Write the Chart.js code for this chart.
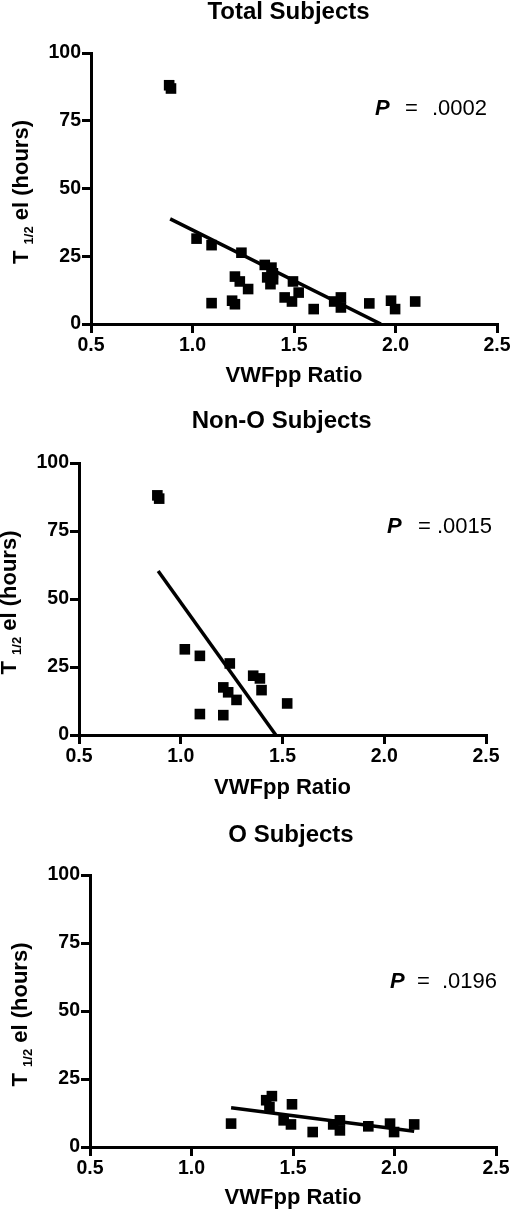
<!DOCTYPE html>
<html>
<head>
<meta charset="utf-8">
<script src="https://cdn.jsdelivr.net/npm/chart.js@4.4.1/dist/chart.umd.min.js"></script>
<style>
  html, body { margin: 0; padding: 0; background: #fff; }
  body { width: 520px; height: 1217px; position: relative; overflow: hidden; }
  canvas { position: absolute; left: 0; }
</style>
</head>
<body>
<canvas id="c0"></canvas>
<canvas id="c1"></canvas>
<canvas id="c2"></canvas>
<script>
// Non-O subjects (VWFpp ratio, T1/2 el in hours)
const nonOX = [0.885, 0.894, 1.020, 1.094, 1.241, 1.209, 1.233, 1.274, 1.094, 1.209, 1.356, 1.389, 1.397, 1.523];
const nonOY = [88.1, 86.9, 31.5, 29.1, 26.3, 17.5, 15.7, 12.9, 7.7, 7.3, 21.8, 20.8, 16.5, 11.6];

// O subjects
const oX = [1.195, 1.368, 1.396, 1.384, 1.495, 1.454, 1.490, 1.597, 1.698, 1.731, 1.731, 1.871, 1.978, 1.998, 2.097];
const oY = [8.6, 17.2, 18.7, 14.7, 15.7, 9.8, 8.3, 5.5, 8.3, 9.8, 6.1, 7.6, 8.6, 5.5, 8.3];

// total = both groups together
const totalX = nonOX.concat(oX);
const totalY = nonOY.concat(oY);

// regression lines (end points)
const totalFitX = [0.89, 1.928];
const totalFitY = [38.8, 0];
const nonOFitX = [0.889, 1.467];
const nonOFitY = [60.3, 0];
const oFitX = [1.195, 2.097];
const oFitY = [14.4, 5.8];

const panelTitles = ["Total Subjects", "Non-O Subjects", "O Subjects"];
const pValues = [".0002", ".0015", ".0196"];
const xTicks = [0.5, 1.0, 1.5, 2.0, 2.5];
const yTicks = [0, 25, 50, 75, 100];
const xTitle = "VWFpp Ratio";

const FONT = "'Liberation Sans', Arial, Helvetica, sans-serif";

// where each panel sits on the page
const panels = [
  { top: 0,   h: 395, left: 91, right: 497, aTop: 53, aBottom: 324, titleX: 288.5, titleY: 18.5,
    pX: 375, eqX: 405, valX: 432, pY: 115, xtPad: 5.8,
    xs: totalX, ys: totalY, fx: totalFitX, fy: totalFitY },
  { top: 400, h: 405, left: 79, right: 486, aTop: 63, aBottom: 335, titleX: 281.7, titleY: 28.3,
    pX: 387, eqX: 418, valX: 437, pY: 133.3, xtPad: 3.8,
    xs: nonOX, ys: nonOY, fx: nonOFitX, fy: nonOFitY },
  { top: 810, h: 407, left: 90, right: 496, aTop: 65, aBottom: 337, titleX: 291, titleY: 31.7,
    pX: 390, eqX: 417, valX: 442, pY: 178.3, xtPad: 5.8,
    xs: oX, ys: oY, fx: oFitX, fy: oFitY }
];

function toPoints(xs, ys) {
  return xs.map((x, i) => ({ x: x, y: ys[i] }));
}

function makeTextPlugin(p, idx) {
  return {
    id: "panelText" + idx,
    afterDraw(chart) {
      const ctx = chart.ctx;
      const area = chart.chartArea;
      ctx.save();
      ctx.fillStyle = "#000";
      ctx.textBaseline = "alphabetic";

      // panel title
      ctx.font = "bold 24px " + FONT;
      ctx.textAlign = "center";
      ctx.fillText(panelTitles[idx], p.titleX, p.titleY);

      // P value
      ctx.textAlign = "left";
      ctx.font = "italic bold 22px " + FONT;
      ctx.fillText("P", p.pX, p.pY);
      ctx.font = "22px " + FONT;
      ctx.fillText("=", p.eqX, p.pY);
      ctx.fillText(pValues[idx], p.valX, p.pY);

      // y axis title with subscript
      const big = "bold 22px " + FONT;
      const small = "bold 13px " + FONT;
      ctx.font = big;
      const w1 = ctx.measureText("T ").width;
      const w3 = ctx.measureText(" el (hours)").width;
      ctx.font = small;
      const w2 = ctx.measureText("1/2").width;
      const total = w1 + w2 + w3;
      const cx = area.left - 63;
      const cy = (area.top + area.bottom) / 2 + 3.5;
      ctx.translate(cx, cy);
      ctx.rotate(-Math.PI / 2);
      let x = -total / 2;
      ctx.font = big;
      ctx.fillText("T ", x, 0);
      x += w1;
      ctx.font = small;
      ctx.fillText("1/2", x, 5);
      x += w2;
      ctx.font = big;
      ctx.fillText(" el (hours)", x, 0);
      ctx.restore();
    }
  };
}

panels.forEach((p, idx) => {
  const canvas = document.getElementById("c" + idx);
  canvas.width = 520;
  canvas.height = p.h;
  canvas.style.top = p.top + "px";
  canvas.style.width = "520px";
  canvas.style.height = p.h + "px";

  new Chart(canvas, {
    type: "scatter",
    data: {
      datasets: [
        {
          label: "fit",
          data: toPoints(p.fx, p.fy),
          showLine: true,
          borderColor: "#000",
          borderWidth: 3.5,
          pointRadius: 0,
          fill: false
        },
        {
          label: "subjects",
          data: toPoints(p.xs, p.ys),
          pointStyle: "rect",
          pointRadius: 7.5,
          pointBorderWidth: 0,
          backgroundColor: "#000",
          borderColor: "#000"
        }
      ]
    },
    options: {
      responsive: false,
      animation: false,
      devicePixelRatio: 1,
      layout: { padding: { top: p.aTop, right: 520 - p.right, bottom: 0, left: 0 } },
      plugins: {
        legend: { display: false },
        tooltip: { enabled: false },
        title: { display: false }
      },
      scales: {
        x: {
          type: "linear",
          min: 0.5,
          max: 2.5,
          afterFit: (s) => { s.height = p.h - p.aBottom; },
          afterBuildTicks: (s) => { s.ticks = xTicks.map((v) => ({ value: v })); },
          border: { display: true, color: "#000", width: 3 },
          grid: { display: true, drawOnChartArea: false, drawTicks: true, tickLength: 9, color: "#000", lineWidth: 3 },
          ticks: {
            autoSkip: false,
            maxRotation: 0,
            padding: 1,
            color: "#000",
            font: { family: FONT, size: 19.5, weight: "bold" },
            callback: (v) => Number(v).toFixed(1)
          },
          title: {
            display: true,
            text: xTitle,
            color: "#000",
            font: { family: FONT, size: 22, weight: "bold" },
            padding: { top: 0, bottom: p.xtPad }
          }
        },
        y: {
          type: "linear",
          min: 0,
          max: 100,
          afterFit: (s) => { s.width = p.left; },
          afterBuildTicks: (s) => { s.ticks = yTicks.map((v) => ({ value: v })); },
          border: { display: true, color: "#000", width: 3 },
          grid: { display: true, drawOnChartArea: false, drawTicks: true, tickLength: 9, color: "#000", lineWidth: 3 },
          ticks: {
            autoSkip: false,
            padding: 1,
            color: "#000",
            font: { family: FONT, size: 19.5, weight: "bold" }
          },
          title: { display: false }
        }
      }
    },
    plugins: [makeTextPlugin(p, idx)]
  });
});
</script>
</body>
</html>
